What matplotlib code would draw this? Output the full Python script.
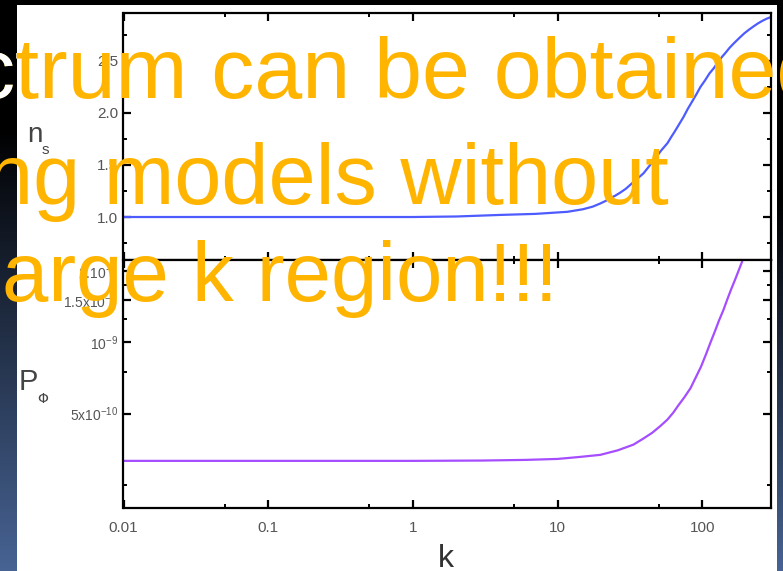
import numpy as np
import matplotlib
matplotlib.use("Agg")
import matplotlib.pyplot as plt
from matplotlib.patches import Rectangle
from matplotlib.ticker import FixedLocator, NullFormatter

plt.rcParams['mathtext.fontset'] = 'custom'
plt.rcParams['mathtext.rm'] = 'Liberation Sans'
plt.rcParams['mathtext.it'] = 'Liberation Sans'

# ---------------- data ----------------
k_ns = [0.01, 0.1, 1, 2, 4.0, 7, 11.7, 15, 17.5, 19.7, 21.5, 23, 25, 27.1, 29.5, 31.8,
        35, 39.2, 43, 47, 52, 57.4, 61, 65, 69, 74, 79, 85, 91, 97, 104, 112, 120, 127,
        136, 145, 154, 164, 180, 195, 210, 225, 242, 260, 278, 296]
ns_vals = [1.0, 1.0, 1.0, 1.005, 1.02, 1.03, 1.05, 1.075, 1.10, 1.13, 1.155, 1.18, 1.205,
           1.235, 1.27, 1.31, 1.36, 1.42, 1.49, 1.56, 1.64, 1.71, 1.77, 1.83, 1.89, 1.96,
           2.035, 2.11, 2.18, 2.25, 2.31, 2.38, 2.43, 2.48, 2.535, 2.58, 2.625, 2.665,
           2.72, 2.765, 2.80, 2.83, 2.86, 2.885, 2.905, 2.92]

k_P = [0.01, 0.1, 1, 3, 6, 10, 14, 19.7, 26, 33.4, 39, 45, 51, 57.4, 63, 68, 75, 82.8,
       90, 98, 106, 114, 122, 130, 140, 149, 158, 168, 179, 190, 200]
P_vals = [3.16e-10, 3.16e-10, 3.16e-10, 3.17e-10, 3.19e-10, 3.22e-10, 3.28e-10, 3.35e-10,
          3.5e-10, 3.7e-10, 3.92e-10, 4.15e-10, 4.42e-10, 4.72e-10, 5.05e-10, 5.4e-10,
          5.85e-10, 6.4e-10, 7.1e-10, 7.9e-10, 8.9e-10, 1.0e-9, 1.11e-9, 1.23e-9,
          1.37e-9, 1.52e-9, 1.67e-9, 1.83e-9, 2.02e-9, 2.22e-9, 2.45e-9]

x_ticks = [0.01, 0.1, 1, 10, 100]
x_ticklabels = ['0.01', '0.1', '1', '10', '100']
x_minor = [0.05, 0.5, 5, 50]

ns_ticks = [1.0, 1.5, 2.0, 2.5]
ns_ticklabels = ['1.0', '1.5', '2.0', '2.5']
ns_minor = [0.75, 1.25, 1.75, 2.25, 2.75]

P_ticks = [5e-10, 1e-9, 1.5e-9, 2e-9]
P_ticklabels = ['5x10$^{-10}$', '10$^{-9}$', '1.5x10$^{-9}$', '2.10$^{-9}$']
P_minor = [2.5e-10, 7.5e-10, 1.25e-9, 1.75e-9]

overlay_lines = ['ctrum can be obtained', 'ng models without', 'arge k region!!!']

# ---------------- figure ----------------
W, H = 783, 571
fig = plt.figure(figsize=(W / 100, H / 100), dpi=100, facecolor='black')

# background (slide edges + white picture)
bg = np.zeros((H, W, 3))
rows = np.arange(H) / (H - 1)
top_c = np.array([0.0, 0.0, 0.0])
bot_c = np.array([0.28, 0.39, 0.58])
t = np.clip((rows - 0.22) / 0.78, 0, 1)[:, None]
grad = top_c * (1 - t) + bot_c * t
bg[:, :17, :] = grad[:, None, :]
t2 = np.clip((rows - 0.35) / 0.65, 0, 1)[:, None]
grad2 = top_c * (1 - t2) + bot_c * t2
bg[:, 777:, :] = grad2[:, None, :]
bg[5:, 17:777, :] = 1.0
axbg = fig.add_axes([0, 0, 1, 1], zorder=0)
axbg.imshow(bg, extent=[0, W, H, 0], aspect='auto', interpolation='bilinear')
axbg.set_xlim(0, W)
axbg.set_ylim(H, 0)
axbg.axis('off')

def fx(px):
    return px / W

def fy(py):
    return 1 - py / H

left, right = 123.5, 771
ax1 = fig.add_axes([fx(left), fy(260), fx(right) - fx(left), fy(13) - fy(260)], zorder=1)
ax2 = fig.add_axes([fx(left), fy(508), fx(right) - fx(left), fy(260) - fy(508)], zorder=1)

tick_col = '#555555'
for ax in (ax1, ax2):
    ax.set_xscale('log')
    ax.set_xlim(0.01, 298)
    for s in ax.spines.values():
        s.set_linewidth(1.6)
        s.set_color('black')
    ax.xaxis.set_major_locator(FixedLocator(x_ticks))
    ax.xaxis.set_minor_locator(FixedLocator(x_minor))
    ax.xaxis.set_minor_formatter(NullFormatter())
    ax.tick_params(which='major', direction='in', length=6, width=1.6, top=True, right=True,
                   colors='black', labelcolor=tick_col, labelsize=11)
    ax.tick_params(which='minor', direction='in', length=3, width=1.4, top=True, right=True,
                   colors='black')
    ax.set_facecolor('white')

ax1.plot(k_ns, ns_vals, color='#4d5bff', lw=1.6)
ax1.set_ylim(0.587, 2.96)
ax1.yaxis.set_major_locator(FixedLocator(ns_ticks))
ax1.yaxis.set_minor_locator(FixedLocator(ns_minor))
ax1.set_yticklabels(ns_ticklabels, family=['Liberation Sans Narrow', 'Liberation Sans'])
ax1.tick_params(axis='x', labelbottom=False)
ax1.tick_params(axis='y', pad=4)

ax2.plot(k_P, P_vals, color='#a64dff', lw=1.6)
ax2.set_yscale('log')
ax2.set_ylim(2.0e-10, 2.22e-9)
ax2.yaxis.set_major_locator(FixedLocator(P_ticks))
ax2.yaxis.set_minor_locator(FixedLocator(P_minor))
ax2.yaxis.set_minor_formatter(NullFormatter())
ax2.set_yticklabels(P_ticklabels, family=['Liberation Sans Narrow', 'Liberation Sans'], fontsize=10)
ax2.set_xticklabels(x_ticklabels, family=['Liberation Sans Narrow', 'Liberation Sans'])
ax2.tick_params(axis='x', pad=9)
ax2.tick_params(axis='y', pad=4)

# axis labels
lab_col = '#444444'
fig.text(fx(27), fy(142), 'n', fontsize=20, color=lab_col, family='Liberation Sans')
fig.text(fx(42), fy(154), 's', fontsize=11, color=lab_col, family='Liberation Sans')
fig.text(fx(19), fy(390), 'P', fontsize=21, color=lab_col, family='Liberation Sans')
fig.text(fx(37), fy(403), '\u03a6', fontsize=10, color=lab_col, family='DejaVu Sans')
fig.text(fx(446), fy(567), 'k', fontsize=23, color='#333333', ha='center',
         family='Liberation Sans')

# big orange overlay text
orange = '#FFB400'
sizes = [62, 61, 60]
baselines = [98, 204, 301]
starts = [-28, -14, 2]
for txt, b, s, fs in zip(overlay_lines, baselines, starts, sizes):
    fig.text(fx(s), fy(b), txt, fontsize=fs, color=orange, va='baseline', ha='left',
             family='Liberation Sans', zorder=5)
# white portion of first line over the left slide edge
tw = fig.text(fx(starts[0]), fy(baselines[0]), overlay_lines[0], fontsize=sizes[0], color='white',
              va='baseline', ha='left', family='Liberation Sans', zorder=6)
clip = Rectangle((0, H - 120), 17, 120, transform=None)
tw.set_clip_path(clip)

fig.savefig('out.png', dpi=100, facecolor=fig.get_facecolor())
